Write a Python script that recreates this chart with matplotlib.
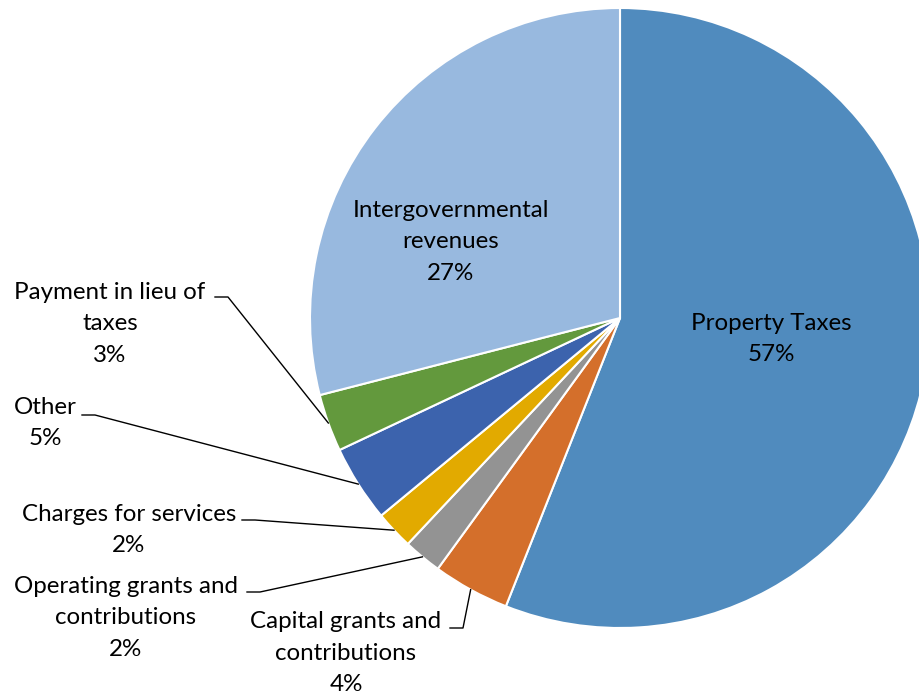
import numpy as np
import matplotlib.pyplot as plt

# slices clockwise from 12 o'clock
categories = ["Property Taxes", "Capital grants and\ncontributions", "Operating grants and\ncontributions",
              "Charges for services", "Other", "Payment in lieu of\ntaxes", "Intergovernmental\nrevenues"]
shares = [56.0, 4.0, 2.0, 2.0, 4.0, 3.0, 29.0]
pct_labels = ["57%", "4%", "2%", "2%", "5%", "3%", "27%"]
colors = ["#508BBE", "#D46F2B", "#939393", "#E2AA00", "#3C63AD", "#63993D", "#98B9DF"]

W, H = 920, 694
fig = plt.figure(figsize=(W / 100, H / 100), dpi=100)
ax = fig.add_axes([0, 0, 1, 1])

cx, cy, r = 620, H - 318, 310
wedges, _ = ax.pie(shares, colors=colors, startangle=90, counterclock=False,
                   center=(cx, cy), radius=r, frame=True,
                   wedgeprops=dict(edgecolor="white", linewidth=1.5))
ax.set_xlim(0, W)
ax.set_ylim(0, H)
ax.set_aspect("equal")
ax.axis("off")

font = dict(family="Lato", fontsize=17.4, color="black", ha="center", va="center", linespacing=1.6)

# label centres (pixel coords from top-left)
label_pos = [(771, 339), (346, 653), (126, 618), (129, 530), (45, 423), (110, 324), (451, 242)]
# leader line start (end of first text line) for outside labels, None = label inside slice
leader_start = [None, (450, 628), (247, 592), (242, 520), (82, 415), (215, 297), None]

for i, w in enumerate(wedges):
    x, y = label_pos[i]
    ax.text(x, H - y, categories[i] + "\n" + pct_labels[i], **font)
    if leader_start[i] is None:
        continue
    mid = np.deg2rad((w.theta1 + w.theta2) / 2)
    ex, ey = cx + r * np.cos(mid), cy + r * np.sin(mid)
    sx, sy = leader_start[i]
    ax.plot([sx, sx + 13, ex], [H - sy, H - sy, ey], color="black", linewidth=1)

fig.savefig("out.png", dpi=100)
